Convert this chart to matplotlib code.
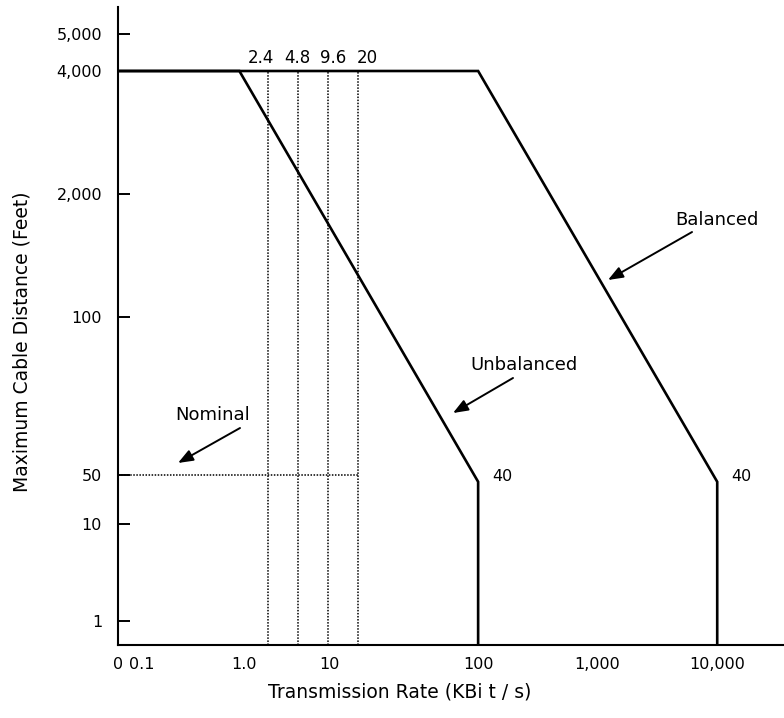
import numpy as np
import matplotlib
matplotlib.use("Agg")
import matplotlib.pyplot as plt

plt.rcParams['font.family'] = ['DejaVu Sans']

# ---- data ----
unbal_rate = [0, 0.9, 100, 100]
unbal_dist = [4000, 4000, 40, 0.5]
bal_rate = [0, 100, 10000, 10000]
bal_dist = [4000, 4000, 40, 0.5]
std_rates = [2.4, 4.8, 9.6, 20]
std_labels = ['2.4', '4.8', '9.6', '20']
nominal_dist = 50
nominal_max_rate = 20
corner_dist = 40

x_ticks = [0, 0.1, 1, 10, 100, 1000, 10000]
x_ticklabels = ['0', '0.1', '1.0', '10', '100', '1,000', '10,000']
x_minor_ticks = [0.1, 1, 1000]
y_ticks = [1, 10, 50, 100, 2000, 4000, 5000]
y_ticklabels = ['1', '10', '50', '100', '2,000', '4,000', '5,000']

# ---- schematic (non-uniform) axis scales ----
XS_VAL = np.log10([1e-3, 0.1, 1, 2.4, 4.8, 9.6, 20, 100, 1000, 10000, 100000])
XS_POS = np.array([118, 142, 244, 268, 298, 328, 358, 478, 597, 717, 837], float)
YS_VAL = np.log10([0.5, 1, 10, 50, 100, 2000, 4000, 5000, 6000])
YS_POS = np.array([73, 97, 194, 243, 401, 524, 647, 684, 711], float)


def xf(v):
    v = np.asarray(v, float)
    return np.interp(np.log10(np.maximum(v, 1e-3)), XS_VAL, XS_POS)


def xi(p):
    return 10 ** np.interp(np.asarray(p, float), XS_POS, XS_VAL)


def yf(v):
    v = np.asarray(v, float)
    return np.interp(np.log10(np.maximum(v, 1e-3)), YS_VAL, YS_POS)


def yi(p):
    return 10 ** np.interp(np.asarray(p, float), YS_POS, YS_VAL)


fig = plt.figure(figsize=(7.84, 7.18), dpi=100)
ax = fig.add_axes([118 / 784, 73 / 718, 666 / 784, 638 / 718])
ax.set_xscale('function', functions=(xf, xi))
ax.set_yscale('function', functions=(yf, yi))
ax.set_xlim(0, 36000)
ax.set_ylim(0.5, 6000)

lw = 1.9
ax.plot(unbal_rate, unbal_dist, color='black', lw=lw, solid_joinstyle='miter', zorder=3)
ax.plot(bal_rate, bal_dist, color='black', lw=lw, solid_joinstyle='miter', zorder=3)

for r in std_rates:
    ax.plot([r, r], [0.5, 4000], color='black', lw=1.1, ls=(0, (1, 1)), zorder=2)
ax.plot([0, nominal_max_rate], [nominal_dist, nominal_dist], color='black', lw=1.1,
        ls=(0, (1, 1)), zorder=2)

dx_pts = [-5, -0.7, 3.6, 6.5]
for r, lab, dx in zip(std_rates, std_labels, dx_pts):
    ax.annotate(lab, xy=(r, 4000), xytext=(dx, 3), textcoords='offset points',
                ha='center', va='bottom', fontsize=12)

for r in [100, 10000]:
    ax.annotate(str(corner_dist), xy=(r, corner_dist), xytext=(10, 3.5),
                textcoords='offset points', ha='left', va='center', fontsize=11.5)

# annotations
arrow_kw = dict(arrowstyle='-|>,head_length=0.9,head_width=0.35', color='black', lw=1.4,
                shrinkA=0, shrinkB=0)
ax.text(0.1426, 0.3605, 'Nominal', transform=ax.transAxes, ha='center', va='center', fontsize=13)
ax.annotate('', xy=(0.0901, 0.2853), xytext=(0.1832, 0.3401), xycoords='axes fraction',
            textcoords='axes fraction', arrowprops=arrow_kw)
ax.text(0.6096, 0.4389, 'Unbalanced', transform=ax.transAxes, ha='center', va='center', fontsize=13)
ax.annotate('', xy=(0.5030, 0.3636), xytext=(0.5931, 0.4185), xycoords='axes fraction',
            textcoords='axes fraction', arrowprops=arrow_kw)
ax.text(0.8994, 0.6661, 'Balanced', transform=ax.transAxes, ha='center', va='center', fontsize=13)
ax.annotate('', xy=(0.7357, 0.5721), xytext=(0.8619, 0.6473), xycoords='axes fraction',
            textcoords='axes fraction', arrowprops=arrow_kw)

# axes styling
for s in ['top', 'right']:
    ax.spines[s].set_visible(False)
for s in ['left', 'bottom']:
    ax.spines[s].set_linewidth(1.5)

ax.set_xticks(x_ticks)
ax.set_xticklabels(x_ticklabels)
ax.set_xticks(x_minor_ticks, minor=True)
ax.set_yticks(y_ticks)
ax.set_yticklabels(y_ticklabels)
ax.set_yticks([], minor=True)
ax.tick_params(axis='x', which='major', length=0, pad=8.5, labelsize=11.5)
ax.tick_params(axis='x', which='minor', direction='in', length=6, width=1.4)
ax.tick_params(axis='y', which='major', direction='in', length=8.5, width=1.4, pad=11.5,
               labelsize=11.5)

ax.set_xlabel('Transmission Rate (KBi t / s)', fontsize=13.5)
ax.xaxis.label.set_va('center')
ax.xaxis.set_label_coords(0.4234, -0.0737)
ax.set_ylabel('Maximum Cable Distance (Feet)', fontsize=13.5)
ax.yaxis.label.set_va('center')
ax.yaxis.set_label_coords(-0.1441, 0.4749)

fig.savefig('out.png', dpi=100)
